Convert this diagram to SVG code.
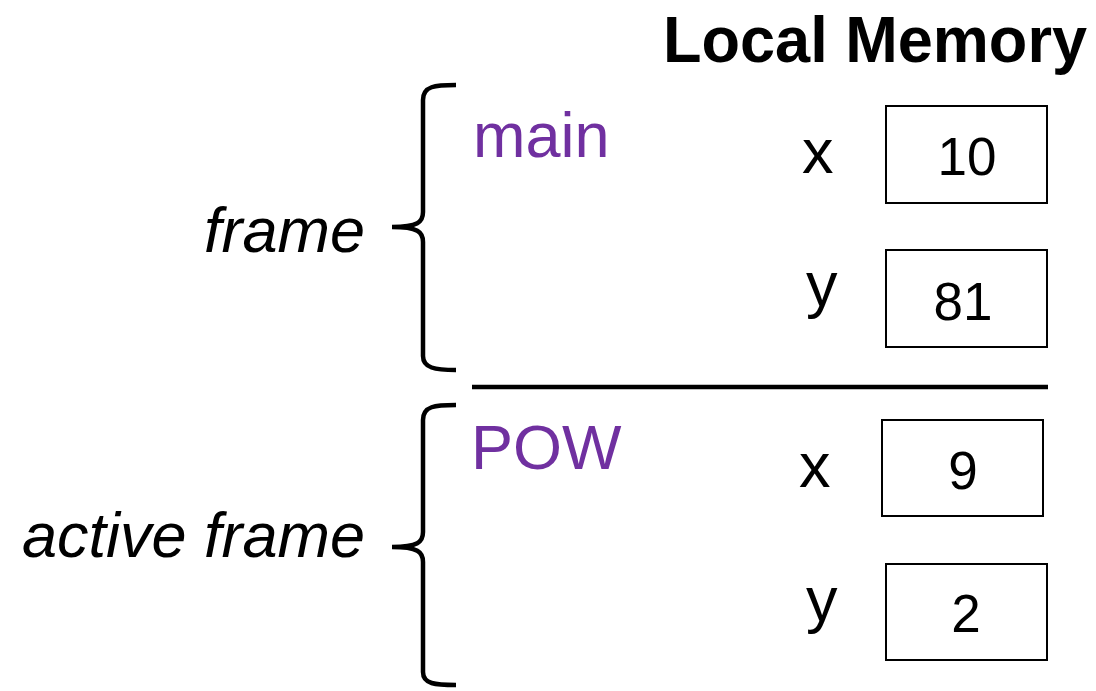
<svg xmlns="http://www.w3.org/2000/svg" width="1096" height="691" viewBox="0 0 1096 691">
<style>
text{font-family:"Liberation Sans",Arial,sans-serif;}
.title{font-size:64px;font-weight:bold;fill:#000;}
.lbl{font-size:63px;font-style:italic;fill:#000;text-anchor:end;}
.fn{font-size:63px;fill:#7030A0;}
.var{font-size:63px;fill:#000;}
.val{font-size:53px;fill:#000;text-anchor:middle;}
.box{fill:#fff;stroke:#000;stroke-width:2;}
.brace{fill:none;stroke:#000;stroke-width:4.5;stroke-linecap:butt;}
</style>
<rect width="1096" height="691" fill="#fff"/>
<text class="title" x="663" y="62" textLength="424" lengthAdjust="spacingAndGlyphs">Local Memory</text>
<g id="frame-main">
<path class="brace" d="M456,85 C435,85 423,86 423,100 L423,212 C423,222 418,227 392,227 C418,227 423,232 423,242 L423,356 C423,368 435,370 456,370"/>
<text class="lbl" x="365" y="252">frame</text>
<text class="fn" x="473" y="157">main</text>
</g>
<g id="main-x">
<text class="var" x="802" y="173">x</text>
<rect class="box" x="886" y="106" width="161" height="97"/>
<text class="val" x="967" y="175">10</text>
</g>
<g id="main-y">
<text class="var" x="806" y="306">y</text>
<rect class="box" x="886" y="250" width="161" height="97"/>
<text class="val" x="963" y="320">81</text>
</g>
<g id="connectors">
<line x1="472" y1="387" x2="1048" y2="387" stroke="#000" stroke-width="4.5"/>
</g>
<g id="frame-pow">
<path class="brace" d="M456,405 C435,405 423,406 423,420 L423,532 C423,542 418,547 392,547 C418,547 423,552 423,562 L423,672 C423,684 435,685 456,685"/>
<text class="lbl" x="365" y="557">active frame</text>
<text class="fn" x="471" y="469">POW</text>
</g>
<g id="pow-x">
<text class="var" x="799" y="487">x</text>
<rect class="box" x="882" y="420" width="161" height="96"/>
<text class="val" x="963" y="489">9</text>
</g>
<g id="pow-y">
<text class="var" x="806" y="621">y</text>
<rect class="box" x="886" y="564" width="161" height="96"/>
<text class="val" x="966" y="632">2</text>
</g>
</svg>
